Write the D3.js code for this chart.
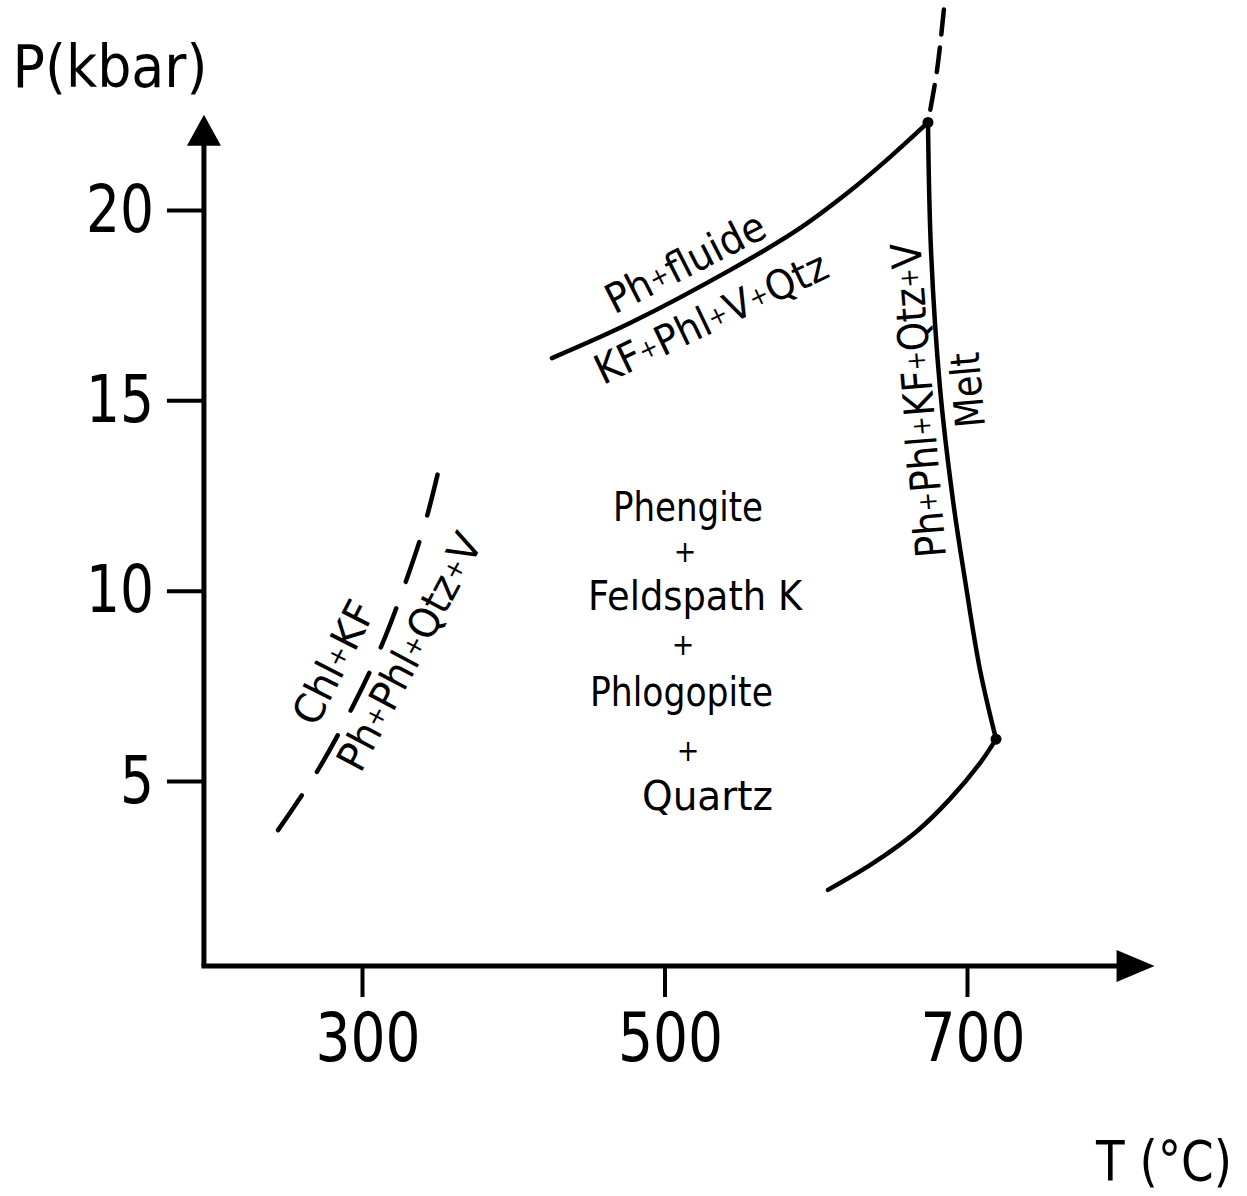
<!DOCTYPE html>
<html><head><meta charset="utf-8">
<script src="https://cdn.jsdelivr.net/npm/d3@7"></script>
<style>
body{margin:0;background:#fff}
svg text{font-family:"DejaVu Sans Condensed","DejaVu Sans",sans-serif;fill:#000}
</style></head><body>
<svg id="c" width="1247" height="1196"></svg>
<script>
// ---- data (T in °C, P in kbar) ----
const xTicks = [300, 500, 700];
const yTicks = [5, 10, 15, 20];
const tAxisExtent = [195.5, 824];
const pAxisExtent = [0.14, 22.5];
const phFluideT = [425.6, 477.2, 543.3, 587.6, 620.7, 649.1, 674.2];
const phFluideP = [16.11, 17.03, 18.42, 19.47, 20.44, 21.39, 22.30];
const meltHighT = [674.2, 676.2, 682.1, 690.7, 698.7, 708.6, 719.2];
const meltHighP = [22.30, 18.94, 15.35, 12.38, 10.28, 7.92, 6.10];
const meltLowT = [608.1, 637.9, 666.9, 688.8, 708.6, 719.2];
const meltLowP = [2.14, 2.84, 3.68, 4.53, 5.47, 6.10];
const chlT = [244.5, 270.2, 293.4, 313.2, 329.8, 341.7, 350.2];
const chlP = [3.71, 5.24, 6.92, 8.58, 10.33, 11.77, 13.09];
const upperT = [674.2, 680.2, 684.8];
const upperP = [22.30, 23.68, 25.3];
const invariantT = [674.2, 719.2];
const invariantP = [22.30, 6.10];
const labelTexts = ["Phengite", "+", "Feldspath K", "+", "Phlogopite", "+", "Quartz",
  "Ph+fluide", "KF+Phl+V+Qtz", "Chl+KF", "Ph+Phl+Qtz+V", "Ph+Phl+KF+Qtz+V", "Melt"];
const labelT = [515.5, 513.6, 520.2, 512.2, 511.2, 515.5, 528.4, 513.6, 530.7, 281.0, 331.0, 667.6, 700.0];
const labelP = [12.22, 11.04, 9.88, 8.60, 7.36, 5.82, 4.63, 18.63, 17.18, 8.12, 8.40, 15.0, 15.27];

// ---- layout ----
const labelAngle = [0, 0, 0, 0, 0, 0, 0, -27, -25.5, -63, -62, -94.7, -95];
const labelWidth = [150, 0, 214, 0, 183, 0, 131, 174, 253, 133, 262, 316, 75];
const labelSize = [41, 30, 41, 30, 41, 30, 41, 41, 41, 41, 41, 42, 41];

const svg = d3.select("#c");
const x = d3.scaleLinear().domain([300, 700]).range([362, 967]);
const y = d3.scaleLinear().domain([5, 20]).range([781, 210]);

const ox = x(tAxisExtent[0]), oy = y(pAxisExtent[0]);

// axes lines
svg.append("line").attr("x1", ox).attr("y1", oy).attr("x2", ox).attr("y2", y(pAxisExtent[1]) + 25)
  .attr("stroke", "#000").attr("stroke-width", 5);
svg.append("line").attr("x1", ox - 2.5).attr("y1", oy).attr("x2", x(tAxisExtent[1]) - 30).attr("y2", oy)
  .attr("stroke", "#000").attr("stroke-width", 5);
// arrow heads
const ty = y(pAxisExtent[1]);
svg.append("path").attr("d", `M${ox},${ty} L${ox + 17},${ty + 31} L${ox - 17},${ty + 31} Z`).attr("fill", "#000");
const tx = x(tAxisExtent[1]);
svg.append("path").attr("d", `M${tx},${oy} L${tx - 38},${oy - 16} L${tx - 38},${oy + 16} Z`).attr("fill", "#000");

// y axis ticks
const gy = svg.append("g").attr("transform", `translate(${ox},0)`)
  .call(d3.axisLeft(y).tickValues(yTicks).tickSize(37).tickPadding(13).tickFormat(d3.format("d")));
gy.select(".domain").remove();
gy.selectAll(".tick line").attr("stroke", "#000").attr("stroke-width", 4);
gy.selectAll(".tick text").style("font-size", "66px");

// x axis ticks
const gx = svg.append("g").attr("transform", `translate(0,${oy})`)
  .call(d3.axisBottom(x).tickValues(xTicks).tickSize(31).tickPadding(16).tickFormat(d3.format("d")));
gx.select(".domain").remove();
gx.selectAll(".tick line").attr("stroke", "#000").attr("stroke-width", 4);
gx.selectAll(".tick text").style("font-size", "68px").attr("dx", "0.08em");

svg.selectAll(".tick text").each(function () {
  const w = this.getComputedTextLength();
  d3.select(this).attr("textLength", w * 0.9).attr("lengthAdjust", "spacingAndGlyphs");
}).attr("font-family", null).attr("font-size", null);

// axis titles
svg.append("text").attr("x", 110).attr("y", 66).attr("dy", "0.36em").attr("text-anchor", "middle")
  .style("font-size", "59px").attr("textLength", 195).attr("lengthAdjust", "spacingAndGlyphs").text("P(kbar)");
svg.append("text").attr("x", 1164).attr("y", 1180).attr("text-anchor", "middle")
  .style("font-size", "56px").attr("textLength", 136).attr("lengthAdjust", "spacingAndGlyphs").text("T (°C)");

// curves
const zip = (a, b) => a.map((v, i) => [v, b[i]]);
function curve(ts, ps, curveType, dash, offset) {
  const line = d3.line().x(d => x(d[0])).y(d => y(d[1])).curve(curveType);
  const p = svg.append("path").attr("d", line(zip(ts, ps))).attr("fill", "none")
    .attr("stroke", "#000").attr("stroke-width", 4.5).attr("stroke-linecap", "round");
  if (dash) p.attr("stroke-dasharray", dash).attr("stroke-dashoffset", offset || 0);
  return p;
}
const cr = d3.curveCatmullRom.alpha(0.5);
curve(phFluideT, phFluideP, cr);
curve(meltHighT, meltHighP, cr);
curve(meltLowT, meltLowP, cr);
curve(chlT, chlP, cr, "42,28", 0);
curve(upperT, upperP, cr, "25,13", 25);

svg.selectAll("circle.inv").data(zip(invariantT, invariantP)).join("circle").attr("class", "inv")
  .attr("cx", d => x(d[0])).attr("cy", d => y(d[1])).attr("r", 5.5).attr("fill", "#000");

// labels
labelTexts.forEach((s, i) => {
  const size = labelSize[i];
  const t = svg.append("text")
    .attr("transform", `translate(${x(labelT[i])},${y(labelP[i])}) rotate(${labelAngle[i]})`)
    .attr("text-anchor", "middle").attr("dy", "0.36em").style("font-size", size + "px");
  if (s === "+") {
    t.text("+");
  } else {
    s.split(/(\+)/).forEach(part => {
      if (!part) return;
      const ts = t.append("tspan").text(part);
      if (part === "+") ts.style("font-size", Math.round(size * 0.62) + "px").attr("baseline-shift", Math.round(size * 0.12) + "px");
    });
  }
  if (labelWidth[i]) t.attr("textLength", labelWidth[i]).attr("lengthAdjust", "spacingAndGlyphs");
});
</script>
</body></html>
